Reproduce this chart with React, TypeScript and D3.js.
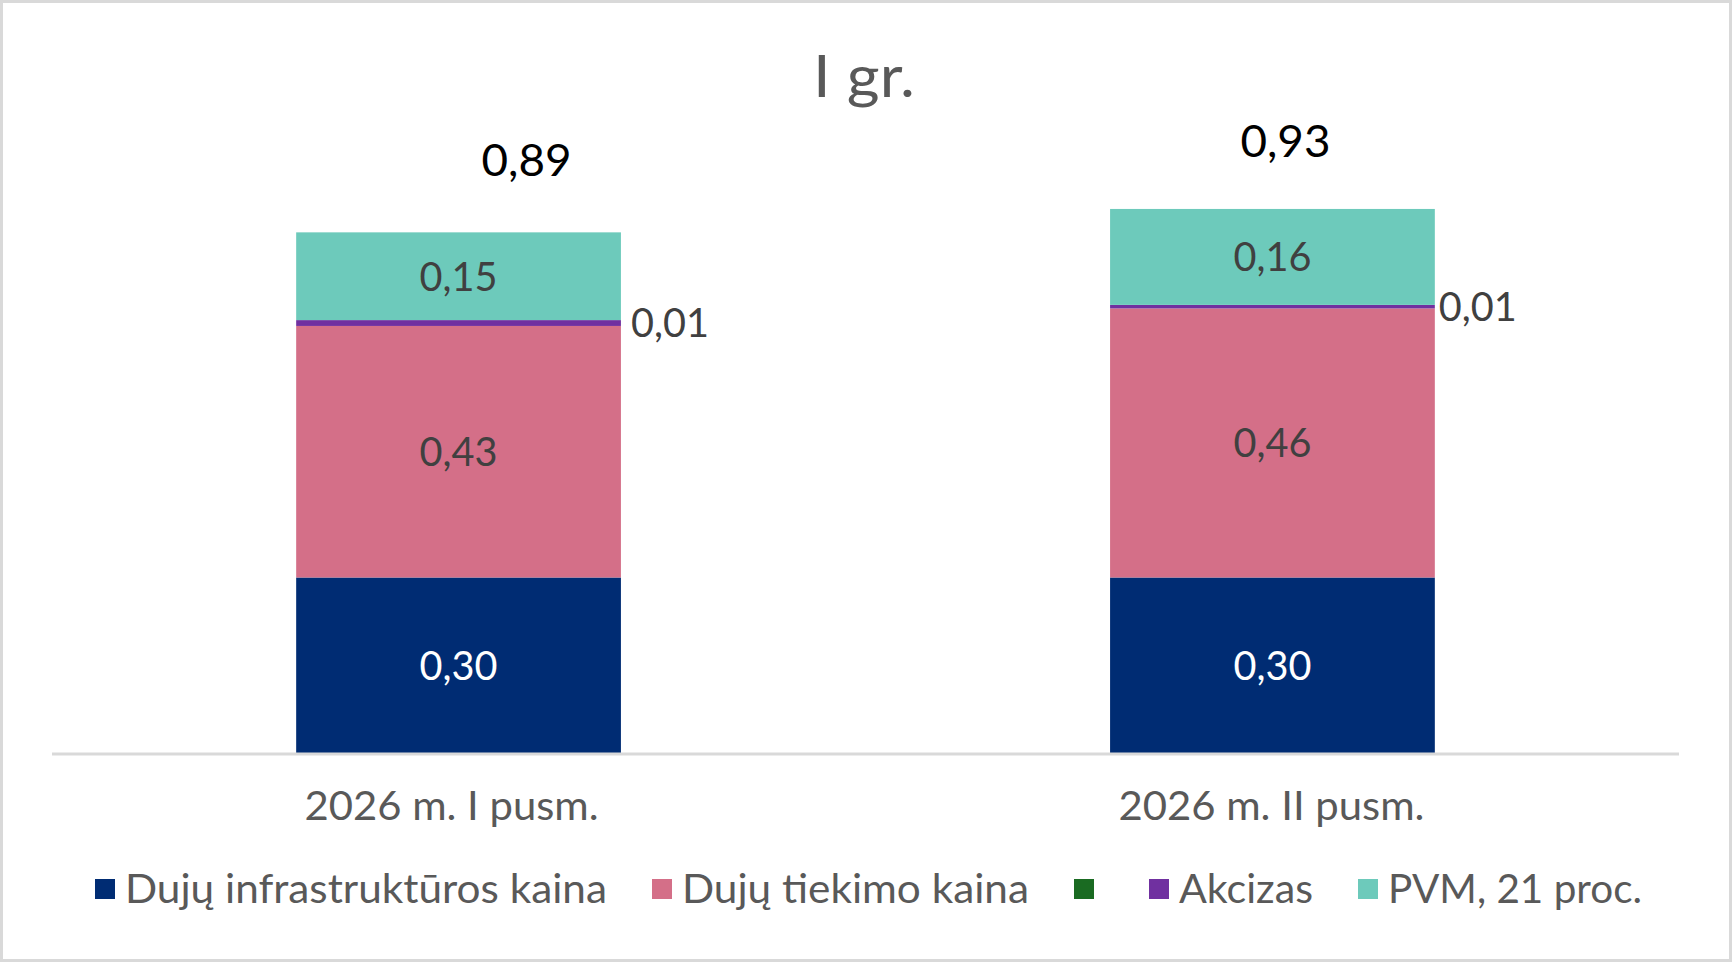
import { useEffect, useRef } from 'react';
import * as d3 from 'd3';

const categories = ['2026 m. I pusm.', '2026 m. II pusm.'];
const infrastructure = [0.30, 0.30];
const supply = [0.43, 0.46];
const other = [0, 0];
const excise = [0.01, 0.006];
const vat = [0.15, 0.164];

const seriesNames = ['Dujų infrastruktūros kaina', 'Dujų tiekimo kaina', '', 'Akcizas', 'PVM, 21 proc.'];
const seriesColors = ['#002c73', '#d46f88', '#1a6b22', '#7030a0', '#6dcabb'];

const W = 1732;
const H = 962;
const FONT = 'Lato, "Open Sans", sans-serif';

export default function App() {
  const svgRef = useRef<SVGSVGElement>(null);

  useEffect(() => {
    document.body.style.margin = '0';
    if (!svgRef.current) return;
    const svg = d3.select(svgRef.current);
    svg.selectAll('*').remove();

    const seriesValues = [infrastructure, supply, other, excise, vat];
    const rows = categories.map((c, i) => {
      const r: any = { cat: c };
      seriesValues.forEach((vals, s) => (r['s' + s] = vals[i]));
      return r;
    });
    const keys = seriesValues.map((_, s) => 's' + s);
    const stacked = d3.stack().keys(keys)(rows);
    const totals = categories.map((_, i) => d3.sum(seriesValues, v => v[i]));

    const x = d3.scaleBand().domain(categories).range([52, 1679]).paddingInner(0.601).paddingOuter(0.3);
    const y = d3.scaleLinear().domain([0, 1]).range([753, 168]);
    const fmt = (v: number) => (Math.round(v * 100) / 100).toFixed(2).replace('.', ',');

    // frame
    svg.append('rect').attr('x', 1.5).attr('y', 1.5).attr('width', W - 3).attr('height', H - 3)
      .attr('fill', '#fff').attr('stroke', '#d9d9d9').attr('stroke-width', 3);

    // title
    svg.append('text').attr('x', 864).attr('y', 97).attr('text-anchor', 'middle')
      .attr('font-family', FONT).attr('font-size', 58).attr('fill', '#595959')
      .attr('textLength', 102).attr('lengthAdjust', 'spacingAndGlyphs').text('I gr.');

    // bars
    stacked.forEach((layer, s) => {
      svg.append('g').selectAll('rect').data(layer).enter().append('rect')
        .attr('x', (d: any) => x(d.data.cat)!)
        .attr('width', x.bandwidth())
        .attr('y', (d: any) => y(d[1]))
        .attr('height', (d: any) => y(d[0]) - y(d[1]))
        .attr('fill', seriesColors[s]);
    });

    // axis line
    svg.append('line').attr('x1', 52).attr('x2', 1679).attr('y1', y(0) + 1).attr('y2', y(0) + 1)
      .attr('stroke', '#d9d9d9').attr('stroke-width', 3);

    // segment labels
    const outsideDx = [10, 4];
    stacked.forEach((layer, s) => {
      if (s === 2) return;
      layer.forEach((d: any, i) => {
        const outside = s === 3;
        const cx = outside ? x(d.data.cat)! + x.bandwidth() + outsideDx[i] : x(d.data.cat)! + x.bandwidth() / 2;
        const cy = (y(d[0]) + y(d[1])) / 2 + 4;
        svg.append('text')
          .attr('x', cx).attr('y', cy)
          .attr('text-anchor', outside ? 'start' : 'middle')
          .attr('dominant-baseline', 'middle')
          .attr('font-family', FONT).attr('font-size', 41)
          .attr('fill', s === 0 ? '#ffffff' : '#404040')
          .attr('textLength', 78).attr('lengthAdjust', 'spacingAndGlyphs')
          .text(fmt(seriesValues[s][i]));
      });
    });

    // totals
    const totalDx = [68, 13];
    const totalDy = [-67, -63];
    categories.forEach((c, i) => {
      svg.append('text')
        .attr('x', x(c)! + x.bandwidth() / 2 + totalDx[i])
        .attr('y', y(totals[i]) + totalDy[i])
        .attr('text-anchor', 'middle').attr('dominant-baseline', 'middle')
        .attr('font-family', FONT).attr('font-size', 44).attr('fill', '#000')
        .attr('textLength', 90).attr('lengthAdjust', 'spacingAndGlyphs')
        .text(fmt(totals[i]));
    });

    // category labels
    const catLen = [294, 306];
    const catDx = [-7, -1];
    categories.forEach((c, i) => {
      svg.append('text')
        .attr('x', x(c)! + x.bandwidth() / 2 + catDx[i]).attr('y', 810)
        .attr('text-anchor', 'middle').attr('dominant-baseline', 'middle')
        .attr('font-family', FONT).attr('font-size', 41).attr('fill', '#595959')
        .attr('textLength', catLen[i]).attr('lengthAdjust', 'spacingAndGlyphs')
        .text(c);
    });

    // legend
    const legendX = [95, 652, 1074, 1149, 1358];
    const legendLen = [482, 347, 0, 134, 254];
    seriesNames.forEach((name, s) => {
      const g = svg.append('g').attr('transform', `translate(${legendX[s]},889)`);
      g.append('rect').attr('x', 0).attr('y', -10).attr('width', 20).attr('height', 20).attr('fill', seriesColors[s]);
      if (name) {
        g.append('text').attr('x', 30).attr('y', 4)
          .attr('dominant-baseline', 'middle')
          .attr('font-family', FONT).attr('font-size', 41).attr('fill', '#595959')
          .attr('textLength', legendLen[s]).attr('lengthAdjust', 'spacingAndGlyphs')
          .text(name);
      }
    });
  }, []);

  return <svg ref={svgRef} width={W} height={H} viewBox={`0 0 ${W} ${H}`} style={{ display: 'block' }} />;
}
